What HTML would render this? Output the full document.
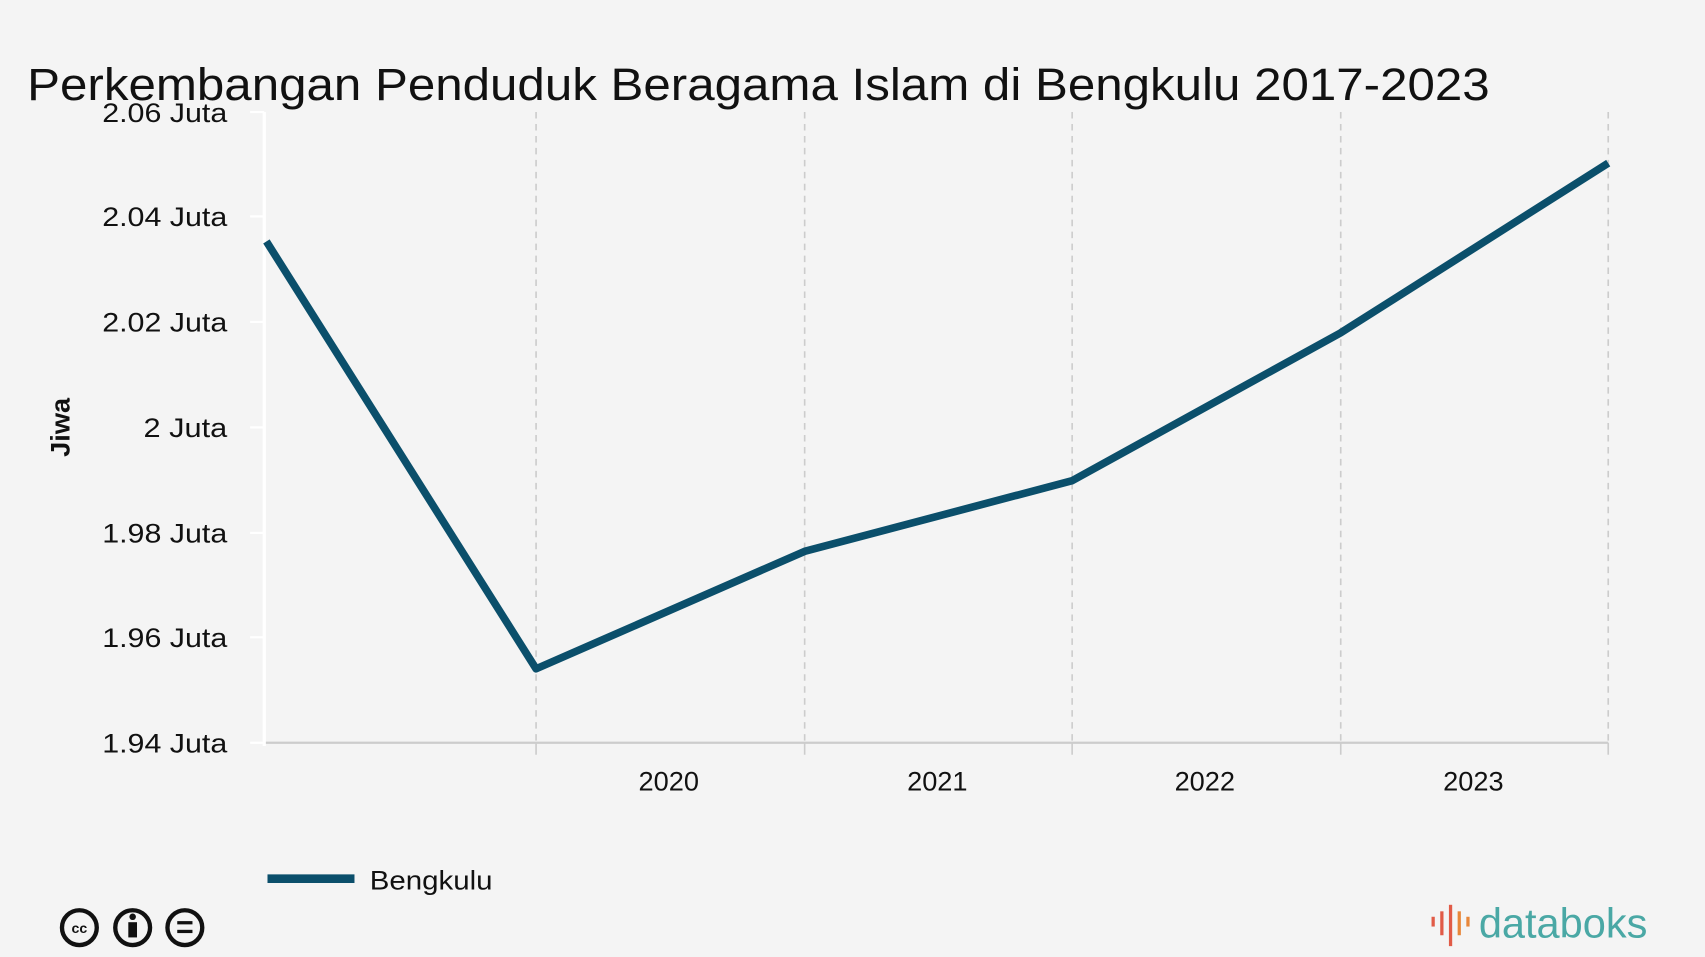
<!DOCTYPE html>
<html><head><meta charset="utf-8"><style>
html,body{margin:0;padding:0;background:#f4f4f4;}
svg{display:block;font-family:"Liberation Sans",sans-serif;}
</style></head><body>
<svg width="1705" height="957" viewBox="0 0 1568 880" preserveAspectRatio="none">
<rect width="1568" height="880" fill="#f4f4f4"/>
<text x="25" y="92" font-size="42" fill="#111" textLength="1345" lengthAdjust="spacingAndGlyphs">Perkembangan Penduduk Beragama Islam  di Bengkulu 2017-2023</text>
<g stroke="#ccc" stroke-width="1.5" stroke-dasharray="6,5">
<line x1="493" y1="103" x2="493" y2="683"/><line x1="740" y1="103" x2="740" y2="683"/>
<line x1="986" y1="103" x2="986" y2="683"/><line x1="1233" y1="103" x2="1233" y2="683"/>
<line x1="1479" y1="103" x2="1479" y2="683"/>
</g>
<g stroke="#ccc" stroke-width="1.5">
<line x1="493" y1="683" x2="493" y2="694"/><line x1="740" y1="683" x2="740" y2="694"/>
<line x1="986" y1="683" x2="986" y2="694"/><line x1="1233" y1="683" x2="1233" y2="694"/>
<line x1="1479" y1="683" x2="1479" y2="694"/>
<line x1="243" y1="683" x2="1479" y2="683" stroke-width="2"/>
</g>
<line x1="243" y1="103" x2="243" y2="686" stroke="#fff" stroke-width="3"/>
<g stroke="#fff" stroke-width="2">
<line x1="230" y1="103" x2="243" y2="103"/><line x1="230" y1="199" x2="243" y2="199"/>
<line x1="230" y1="296" x2="243" y2="296"/><line x1="230" y1="393" x2="243" y2="393"/>
<line x1="230" y1="490" x2="243" y2="490"/><line x1="230" y1="586" x2="243" y2="586"/>
<line x1="230" y1="683" x2="243" y2="683"/>
</g>
<g font-size="25" fill="#111" text-anchor="end">
<text x="209" y="112" textLength="115" lengthAdjust="spacingAndGlyphs">2.06 Juta</text>
<text x="209" y="208" textLength="115" lengthAdjust="spacingAndGlyphs">2.04 Juta</text>
<text x="209" y="305" textLength="115" lengthAdjust="spacingAndGlyphs">2.02 Juta</text>
<text x="209" y="402" textLength="77" lengthAdjust="spacingAndGlyphs">2 Juta</text>
<text x="209" y="499" textLength="115" lengthAdjust="spacingAndGlyphs">1.98 Juta</text>
<text x="209" y="595" textLength="115" lengthAdjust="spacingAndGlyphs">1.96 Juta</text>
<text x="209" y="692" textLength="115" lengthAdjust="spacingAndGlyphs">1.94 Juta</text>
</g>
<g font-size="25" fill="#111" text-anchor="middle">
<text x="615" y="727">2020</text><text x="862" y="727">2021</text>
<text x="1108" y="727">2022</text><text x="1355" y="727">2023</text>
</g>
<text transform="translate(64,393) rotate(-90)" font-size="25" font-weight="bold" text-anchor="middle" fill="#111">Jiwa</text>
<polyline points="245,222 493,615 740,507 986,442 1233,306 1479,150" fill="none" stroke="#0b4f6b" stroke-width="7" stroke-linejoin="round"/>
<line x1="246" y1="808" x2="326" y2="808" stroke="#0b4f6b" stroke-width="8"/>
<text x="340" y="818" font-size="25" fill="#111" textLength="113" lengthAdjust="spacingAndGlyphs">Bengkulu</text>
<g fill="none" stroke="#111" stroke-width="4">
<circle cx="73" cy="853" r="16"/><circle cx="122" cy="853" r="16"/><circle cx="170" cy="853" r="16"/>
</g>
<text x="73" y="858" font-size="13" font-weight="bold" text-anchor="middle" fill="#111">cc</text>
<circle cx="122" cy="843" r="3" fill="#111"/><rect x="118" y="848" width="8" height="14" fill="#111"/>
<rect x="163" y="847" width="14" height="3" fill="#111"/><rect x="163" y="855" width="14" height="3" fill="#111"/>
<g stroke-width="3">
<line x1="1318" y1="843" x2="1318" y2="852" stroke="#e15b47"/>
<line x1="1326" y1="838" x2="1326" y2="860" stroke="#e15b47"/>
<line x1="1334" y1="832" x2="1334" y2="870" stroke="#e15b47"/>
<line x1="1342" y1="838" x2="1342" y2="860" stroke="#e8873a"/>
<line x1="1350" y1="843" x2="1350" y2="852" stroke="#e8873a"/>
</g>
<text x="1360" y="862" font-size="38" fill="#4aa8a5" textLength="155" lengthAdjust="spacingAndGlyphs">databoks</text>
</svg>
</body></html>
